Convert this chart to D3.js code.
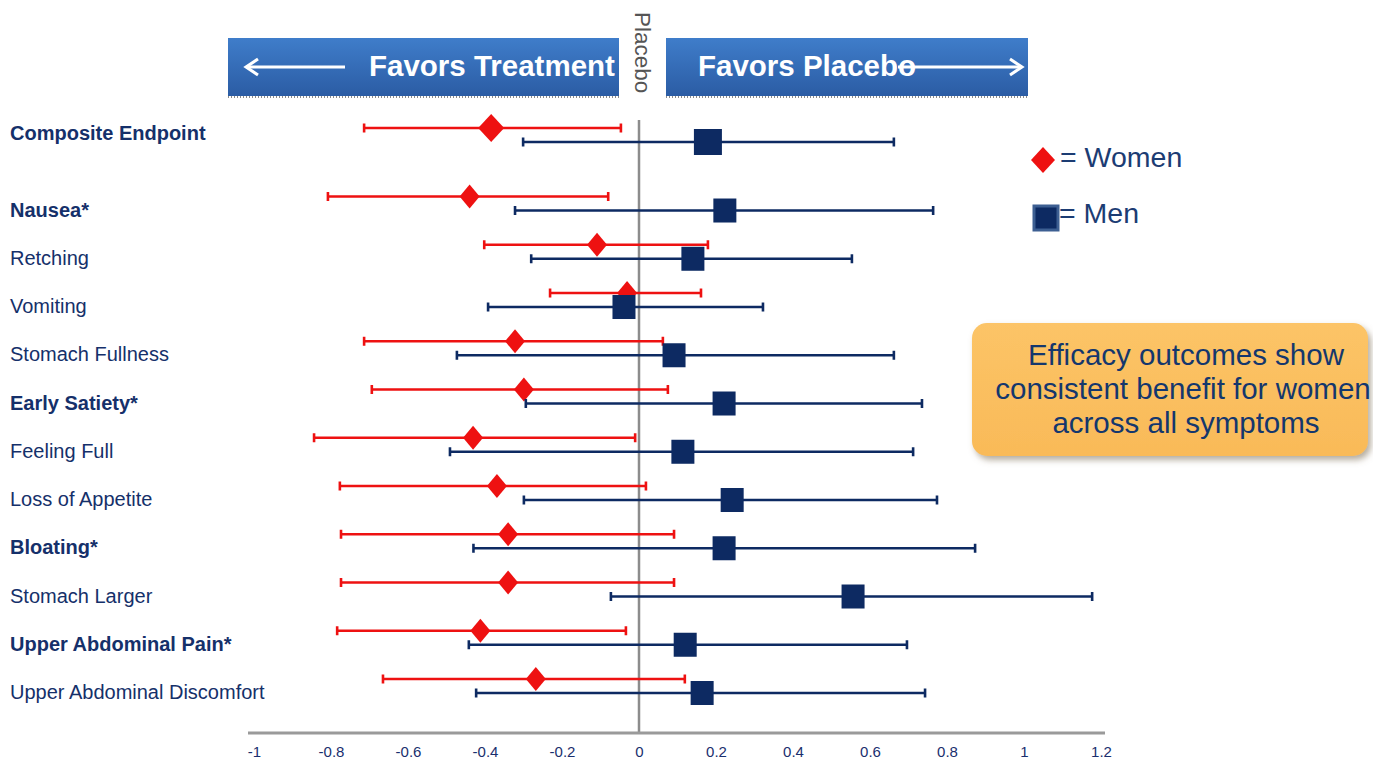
<!DOCTYPE html>
<html>
<head>
<meta charset="utf-8">
<script src="https://cdn.jsdelivr.net/npm/d3@7"></script>
<style>
  html, body { margin: 0; padding: 0; background: #ffffff; }
  svg { display: block; }
</style>
</head>
<body>
<svg id="chart" width="1373" height="765"></svg>
<script>
// Outcome rows, top to bottom
const outcomes = [
  "Composite Endpoint", "Nausea*", "Retching", "Vomiting", "Stomach Fullness",
  "Early Satiety*", "Feeling Full", "Loss of Appetite", "Bloating*",
  "Stomach Larger", "Upper Abdominal Pain*", "Upper Abdominal Discomfort"
];
const boldOutcomes = ["Composite Endpoint", "Nausea*", "Early Satiety*", "Bloating*", "Upper Abdominal Pain*"];

// Effect estimates with 95% CI, women
const womenEst = [-0.384, -0.440, -0.109, -0.031, -0.322, -0.299, -0.431, -0.369, -0.340, -0.340, -0.412, -0.268];
const womenLo  = [-0.714, -0.808, -0.402, -0.231, -0.714, -0.694, -0.844, -0.777, -0.774, -0.774, -0.784, -0.665];
const womenHi  = [-0.047, -0.080,  0.179,  0.161,  0.062,  0.075, -0.010,  0.018,  0.091,  0.091, -0.034,  0.119];

// Effect estimates with 95% CI, men
const menEst = [0.179, 0.223, 0.140, -0.039, 0.091, 0.221, 0.114, 0.242, 0.221, 0.556, 0.120, 0.164];
const menLo  = [-0.301, -0.322, -0.280, -0.392, -0.473, -0.294, -0.491, -0.299, -0.430, -0.073, -0.442, -0.423];
const menHi  = [0.662, 0.764, 0.553, 0.322, 0.662, 0.735, 0.712, 0.774, 0.873, 1.177, 0.696, 0.743];

// Axis ticks
const tickValues = [-1, -0.8, -0.6, -0.4, -0.2, 0, 0.2, 0.4, 0.6, 0.8, 1, 1.2];
const tickLabels = ["-1", "-0.8", "-0.6", "-0.4", "-0.2", "0", "0.2", "0.4", "0.6", "0.8", "1", "1.2"];

const svg = d3.select("#chart");
const navy = "#0d2a62";
const red = "#ee1111";
const labelColor = "#15306a";
const sans = "Liberation Sans, Arial, sans-serif";

// Scales
const x = d3.scaleLinear().domain([-1, 1.2]).range([254, 1101]);
// Row slot: the composite row sits apart from the symptom rows
const slot = i => i === 0 ? 0 : i + 0.42;
const y = d3.scaleLinear().domain([0, 11.42]).range([135, 686]);

const defs = svg.append("defs");
const bannerGrad = defs.append("linearGradient").attr("id", "bannerGrad")
  .attr("x1", 0).attr("y1", 0).attr("x2", 0).attr("y2", 1);
bannerGrad.append("stop").attr("offset", "0%").attr("stop-color", "#3f7dca");
bannerGrad.append("stop").attr("offset", "100%").attr("stop-color", "#2b5ca4");

const boxGrad = defs.append("linearGradient").attr("id", "boxGrad")
  .attr("x1", 0).attr("y1", 0).attr("x2", 0).attr("y2", 1);
boxGrad.append("stop").attr("offset", "0%").attr("stop-color", "#fcc467");
boxGrad.append("stop").attr("offset", "100%").attr("stop-color", "#f9ba58");

const shadow = defs.append("filter").attr("id", "shadow")
  .attr("x", "-10%").attr("y", "-10%").attr("width", "125%").attr("height", "135%");
shadow.append("feDropShadow").attr("dx", 3).attr("dy", 4).attr("stdDeviation", 3)
  .attr("flood-color", "#7a6a50").attr("flood-opacity", 0.55);

// Header banners
const banners = [
  { x0: 228, x1: 619, text: "Favors Treatment", tx: 369, arrow: [345, 246], dir: -1 },
  { x0: 666, x1: 1028, text: "Favors Placebo", tx: 698, arrow: [898, 1022], dir: 1 }
];
const bannerG = svg.append("g");
banners.forEach(b => {
  bannerG.append("rect").attr("x", b.x0).attr("y", 38).attr("width", b.x1 - b.x0).attr("height", 58)
    .attr("fill", "url(#bannerGrad)");
  bannerG.append("line").attr("x1", b.x0).attr("x2", b.x1).attr("y1", 97).attr("y2", 97)
    .attr("stroke", "#8a8a8a").attr("stroke-width", 2).attr("stroke-dasharray", "1,2");
  bannerG.append("text").attr("x", b.tx).attr("y", 76).text(b.text)
    .attr("fill", "#ffffff").attr("font-family", sans)
    .attr("font-weight", "bold").attr("font-size", 29.5);
  const [a0, a1] = b.arrow;
  bannerG.append("line").attr("x1", a0).attr("x2", a1).attr("y1", 67).attr("y2", 67)
    .attr("stroke", "#ffffff").attr("stroke-width", 3);
  bannerG.append("path")
    .attr("d", `M${a1 - b.dir * 12},${59} L${a1},${67} L${a1 - b.dir * 12},${75}`)
    .attr("fill", "none").attr("stroke", "#ffffff").attr("stroke-width", 3);
});
bannerG.append("text").attr("transform", "translate(635,12) rotate(90)")
  .text("Placebo").attr("fill", "#555555")
  .attr("font-family", sans).attr("font-size", 22.5);

// Zero reference line
svg.append("line").attr("x1", x(0)).attr("x2", x(0)).attr("y1", 120).attr("y2", 733)
  .attr("stroke", "#8c8c8c").attr("stroke-width", 2.5);

// X axis
const axisG = svg.append("g").attr("transform", "translate(0,733)")
  .call(d3.axisBottom(x).tickValues(tickValues).tickSize(0).tickPadding(13)
    .tickFormat((d, i) => tickLabels[i]));
axisG.select(".domain").attr("stroke", "#9a9a9a").attr("stroke-width", 3)
  .attr("d", `M${x(-1) - 6},0H${x(1.2) + 4}`);
axisG.selectAll("text").attr("fill", "#1a2f6e")
  .attr("font-family", "Liberation Sans Narrow, Arial Narrow, Liberation Sans, sans-serif")
  .attr("font-size", 15);

// Row labels
svg.append("g").selectAll("text").data(outcomes).join("text")
  .attr("x", 10)
  .attr("y", (d, i) => y(slot(i)) + (i === 0 ? -2 : 6))
  .attr("dy", "0.35em")
  .text(d => d)
  .attr("fill", labelColor)
  .attr("font-family", sans)
  .attr("font-size", 20)
  .attr("font-weight", d => boldOutcomes.includes(d) ? "bold" : "normal");

// Error bars and markers for one group
function drawGroup(est, lo, hi, color, offset, shape) {
  const g = svg.append("g");
  const rows = outcomes.map((name, i) => ({ i, est: est[i], lo: lo[i], hi: hi[i], cy: y(slot(i)) + offset }));
  g.selectAll("line.ci").data(rows).join("line").attr("class", "ci")
    .attr("x1", d => x(d.lo)).attr("x2", d => x(d.hi))
    .attr("y1", d => d.cy).attr("y2", d => d.cy)
    .attr("stroke", color).attr("stroke-width", 2.6);
  ["lo", "hi"].forEach(k => {
    g.selectAll("line.cap-" + k).data(rows).join("line").attr("class", "cap-" + k)
      .attr("x1", d => x(d[k])).attr("x2", d => x(d[k]))
      .attr("y1", d => d.cy - 4.5).attr("y2", d => d.cy + 4.5)
      .attr("stroke", color).attr("stroke-width", 2.6);
  });
  if (shape === "diamond") {
    g.selectAll("path.mk").data(rows).join("path").attr("class", "mk")
      .attr("d", d => {
        const w = d.i === 0 ? 13 : 10, h = d.i === 0 ? 14 : 12;
        const cx = x(d.est);
        return `M${cx},${d.cy - h}L${cx + w},${d.cy}L${cx},${d.cy + h}L${cx - w},${d.cy}Z`;
      })
      .attr("fill", color);
  } else {
    g.selectAll("rect.mk").data(rows).join("rect").attr("class", "mk")
      .attr("x", d => x(d.est) - (d.i === 0 ? 14 : 11.5))
      .attr("y", d => d.cy - (d.i === 0 ? 13 : 12))
      .attr("width", d => d.i === 0 ? 28 : 23)
      .attr("height", d => d.i === 0 ? 26 : 24)
      .attr("fill", color);
  }
}
drawGroup(womenEst, womenLo, womenHi, red, -7, "diamond");
drawGroup(menEst, menLo, menHi, navy, 7, "square");

// Legend
const legend = svg.append("g");
legend.append("path").attr("d", "M1043,147L1055,160L1043,173L1031,160Z").attr("fill", red);
legend.append("text").attr("x", 1060).attr("y", 167).text("= Women")
  .attr("fill", "#1c3c73").attr("font-family", sans).attr("font-size", 28.5);
legend.append("rect").attr("x", 1034).attr("y", 206).attr("width", 24).attr("height", 24)
  .attr("fill", navy).attr("stroke", "#3d5f92").attr("stroke-width", 3);
legend.append("text").attr("x", 1059).attr("y", 223).text("= Men")
  .attr("fill", "#1c3c73").attr("font-family", sans).attr("font-size", 28.5);

// Callout box
const box = svg.append("g");
box.append("rect").attr("x", 972).attr("y", 323).attr("width", 396).attr("height", 133).attr("rx", 15)
  .attr("fill", "url(#boxGrad)").attr("filter", "url(#shadow)");
const boxLines = ["Efficacy outcomes show", "consistent benefit for women", "across all symptoms"];
box.selectAll("text").data(boxLines).join("text")
  .attr("x", (d, i) => i === 1 ? 1183 : 1186)
  .attr("y", (d, i) => 365 + i * 34)
  .attr("text-anchor", "middle")
  .text(d => d)
  .attr("fill", "#14376d").attr("font-family", sans).attr("font-size", 29.5);
</script>
</body>
</html>
